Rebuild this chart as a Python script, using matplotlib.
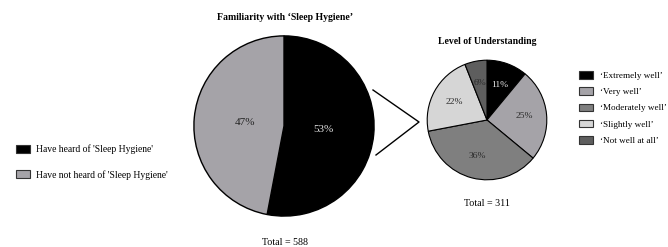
import matplotlib.pyplot as plt
from matplotlib.patches import Patch
from matplotlib.lines import Line2D

plt.rcParams['font.family'] = ['Liberation Serif', 'DejaVu Serif']

# data
fam_labels = ["Have heard of 'Sleep Hygiene'", "Have not heard of 'Sleep Hygiene'"]
fam_values = [53, 47]
fam_colors = ['#000000', '#a5a3a8']

und_labels = ["\u2018Extremely well\u2019", "\u2018Very well\u2019", "\u2018Moderately well\u2019",
              "\u2018Slightly well\u2019", "\u2018Not well at all\u2019"]
und_values = [11, 25, 36, 22, 6]
und_colors = ['#000000', '#a5a3a8', '#7f7f7f', '#d6d6d6', '#5e5e5e']

W, H = 668, 247
fig = plt.figure(figsize=(W / 100, H / 100), dpi=100)

def px_axes(left, top, size):
    return fig.add_axes([left / W, (H - top - size) / H, size / W, size / H])

# big pie
ax1 = px_axes(193, 35, 182)
w1, t1, a1 = ax1.pie(fam_values, colors=fam_colors, startangle=90, counterclock=False,
                     autopct=lambda p: f'{p:.0f}%', pctdistance=0.44,
                     wedgeprops=dict(edgecolor='black', linewidth=1.0),
                     textprops=dict(fontsize=8))
a1[0].set_color('#e0e0e0')
a1[1].set_color('#222222')
ax1.set_xlim(-1.01, 1.01)
ax1.set_ylim(-1.01, 1.01)
ax1.set_aspect('equal')

# small pie
ax2 = px_axes(426, 59, 122)
w2, t2, a2 = ax2.pie(und_values, colors=und_colors, startangle=90, counterclock=False,
                     autopct=lambda p: f'{p:.0f}%', pctdistance=0.63,
                     wedgeprops=dict(edgecolor='black', linewidth=0.8),
                     textprops=dict(fontsize=6.8))
for i, txt in enumerate(a2):
    txt.set_color('#e8e8e8' if i == 0 else '#2a2a2a')
ax2.set_xlim(-1.02, 1.02)
ax2.set_ylim(-1.02, 1.02)
ax2.set_aspect('equal')

# titles and totals
fig.text(285 / W, 1 - 17 / H, "Familiarity with \u2018Sleep Hygiene\u2019", ha='center', va='center',
         fontsize=7, fontweight='bold')
fig.text(487 / W, 1 - 41 / H, "Level of Understanding", ha='center', va='center',
         fontsize=7, fontweight='bold')
fig.text(487 / W, 1 - 203 / H, "Total = 311", ha='center', va='center', fontsize=7.2)
fig.text(285 / W, 1 - 242 / H, "Total = 588", ha='center', va='center', fontsize=7.2)

# connector
fig.add_artist(Line2D([373 / W, 419 / W, 376 / W], [1 - 90 / H, 1 - 122 / H, 1 - 155 / H],
                      color='black', linewidth=1.0))

# legends
h1 = [Patch(facecolor=c, edgecolor='#333333', linewidth=0.8) for c in fam_colors]
fig.legend(h1, fam_labels, loc='center left', bbox_to_anchor=(7 / W, 1 - 162 / H),
           frameon=False, fontsize=6.9, handlelength=1.45, handleheight=0.85,
           labelspacing=1.65, handletextpad=0.7)

h2 = [Patch(facecolor=c, edgecolor='#333333', linewidth=0.8) for c in und_colors]
fig.legend(h2, und_labels, loc='center left', bbox_to_anchor=(571 / W, 1 - 108 / H),
           frameon=False, fontsize=6.6, handlelength=1.5, handleheight=0.9,
           labelspacing=0.8, handletextpad=0.8)

fig.savefig('out.png', dpi=100)
